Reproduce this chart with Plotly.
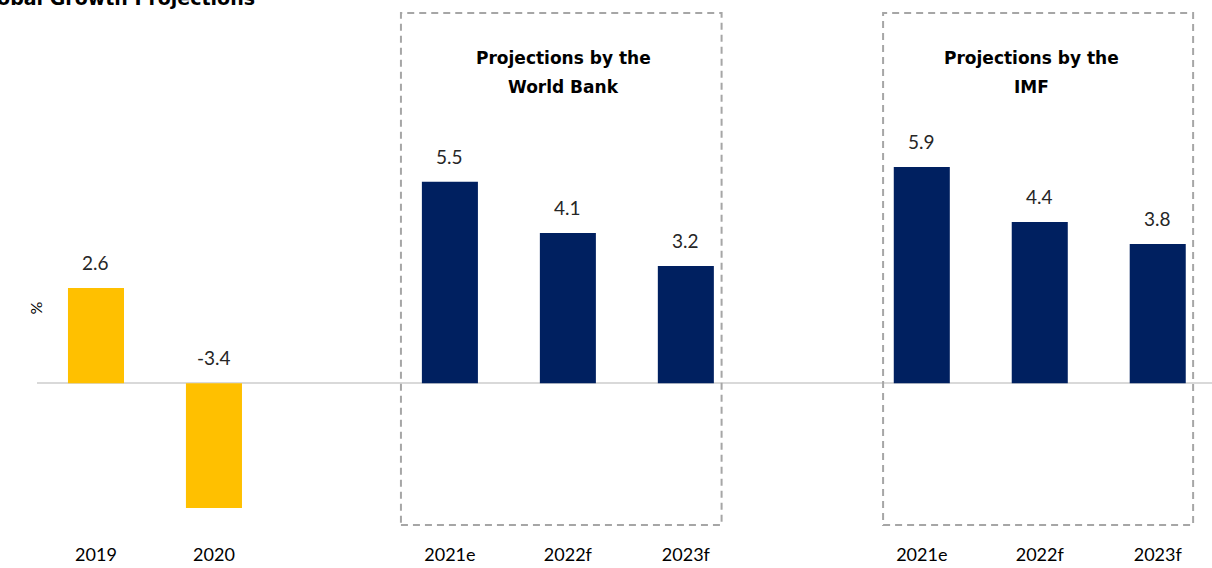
import plotly.graph_objects as go

# ---- data ----
positions = [0, 1, 3, 4, 5, 7, 8, 9]
labels = ["2019", "2020", "2021e", "2022f", "2023f", "2021e", "2022f", "2023f"]
values = [2.6, -3.4, 5.5, 4.1, 3.2, 5.9, 4.4, 3.8]
groups = ["actual", "actual", "wb", "wb", "wb", "imf", "imf", "imf"]
box_titles = [["Projections by the", "World Bank"], ["Projections by the", "IMF"]]
title_text = "Global Growth Projections"

GOLD = "#FFC000"
NAVY = "#002060"
colors = [GOLD if g == "actual" else NAVY for g in groups]
FONT = "Lato, 'Open Sans', sans-serif"
BOLD = "'DejaVu Sans', sans-serif"
PH = 512  # plot height in px

fig = go.Figure()
fig.add_trace(go.Bar(
    x=positions, y=values, width=0.475,
    marker=dict(color=colors, line=dict(width=0)),
    hoverinfo="skip", showlegend=False,
))

# value labels: above positive bars, above zero line for negatives
for p, v in zip(positions, values):
    fig.add_annotation(
        x=p, y=max(v, 0), xref="x", yref="y",
        text=f"{v:.1f}", showarrow=False, yanchor="bottom", yshift=12,
        font=dict(family=FONT, size=19, color="#262626"),
    )

# dashed group boxes
boxes = [(2.585, 5.303), (6.672, 9.30)]
centers = [3.96, 7.93]
line_y = [58, 87]  # line centers in page px
for (x0, x1), lines, c in zip(boxes, box_titles, centers):
    fig.add_shape(type="rect", xref="x", yref="paper", x0=x0, x1=x1, y0=0, y1=1,
                  line=dict(color="#A6A6A6", width=2, dash="7px,5px"),
                  fillcolor="rgba(0,0,0,0)", layer="above")
    for t, ly in zip(lines, line_y):
        fig.add_annotation(x=c, y=1 - (ly - 13) / PH, xref="x", yref="paper",
                           text=f"<b>{t}</b>", showarrow=False, yanchor="middle",
                           font=dict(family=BOLD, size=17, color="#000000"))

# title (partially off-canvas as in reference)
fig.add_annotation(x=(257 - 37) / 1175, y=1 + 15 / PH, xref="paper", yref="paper",
                   text=f"<b>{title_text}</b>", showarrow=False,
                   xanchor="right", yanchor="middle",
                   font=dict(family=BOLD, size=19, color="#000000"))

# y axis label
fig.add_annotation(x=-14 / 1175, y=(525 - 308) / PH, xref="paper", yref="paper",
                   text="%", showarrow=False, textangle=-90,
                   font=dict(family=FONT, size=16, color="#000000"))

fig.update_layout(
    width=1212, height=568,
    margin=dict(l=37, r=0, t=13, b=43),
    paper_bgcolor="white", plot_bgcolor="white",
    bargap=0.5,
    font=dict(family=FONT),
)
fig.update_xaxes(
    range=[-0.5, 9.46], tickmode="array", tickvals=positions, ticktext=labels,
    showgrid=False, showline=False, zeroline=False, ticks="",
    ticklabelstandoff=17,
    tickfont=dict(family=FONT, size=18, color="#000000"),
)
fig.update_yaxes(
    range=[-3.865, 10.10], showgrid=False, showticklabels=False, showline=False,
    zeroline=True, zerolinecolor="#D9D9D9", zerolinewidth=2,
)

fig.write_html("out.html", config={"displayModeBar": False},
               post_script="document.body.style.margin='0px';")
